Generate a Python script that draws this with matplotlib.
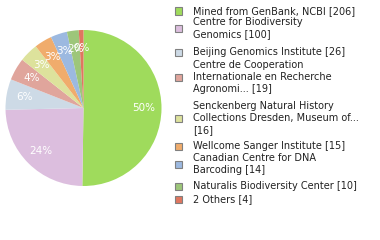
import matplotlib
matplotlib.use("Agg")
import matplotlib.pyplot as plt
from matplotlib.patches import Rectangle

# data
labels = [
    "Mined from GenBank, NCBI [206]",
    "Centre for Biodiversity\nGenomics [100]",
    "Beijing Genomics Institute [26]",
    "Centre de Cooperation\nInternationale en Recherche\nAgronomi... [19]",
    "Senckenberg Natural History\nCollections Dresden, Museum of...\n[16]",
    "Wellcome Sanger Institute [15]",
    "Canadian Centre for DNA\nBarcoding [14]",
    "Naturalis Biodiversity Center [10]",
    "2 Others [4]",
]
counts = [206, 100, 26, 19, 16, 15, 14, 10, 4]
colors = ["#9fdb5c", "#dcbede", "#cddae6", "#e0a59c", "#dde29c",
          "#f0ac6c", "#9cb9e0", "#9dc67a", "#e0765f"]

W, H = 380, 240
fig = plt.figure(figsize=(3.8, 2.4), dpi=100)

# pie
ax = fig.add_axes([5 / W, (H - 186) / H, 157 / W, 156 / H])
total = sum(counts)
wedges, _ = ax.pie(counts, colors=colors, startangle=90, counterclock=False,
                   radius=1.0, wedgeprops=dict(linewidth=0))
ax.set_aspect("equal")
ax.set_xlim(-1, 1)
ax.set_ylim(-1, 1)

import numpy as np
cum = 0
for c in counts:
    mid = (cum + c / 2) / total
    ang = np.deg2rad(90 - 360 * mid)
    pct = int(100 * c / total)
    ax.text(0.77 * np.cos(ang), 0.77 * np.sin(ang), f"{pct}%", color="white",
            ha="center", va="center", fontsize=7.5)
    cum += c

# legend, drawn by hand
sq_y = [11, 28, 52, 77, 118, 146, 164, 186, 199]
for lab, col, y in zip(labels, colors, sq_y):
    fig.patches.append(Rectangle((174.5 / W, 1 - (y + 3.5) / H), 7 / W, 7 / H,
                                 transform=fig.transFigure, facecolor=col,
                                 edgecolor="#808080", linewidth=0.8))
    fig.text(193 / W, 1 - y / H, lab, ha="left", va="center", fontsize=7,
             color="#222222", linespacing=1.3)

fig.savefig("out.png", dpi=100)
